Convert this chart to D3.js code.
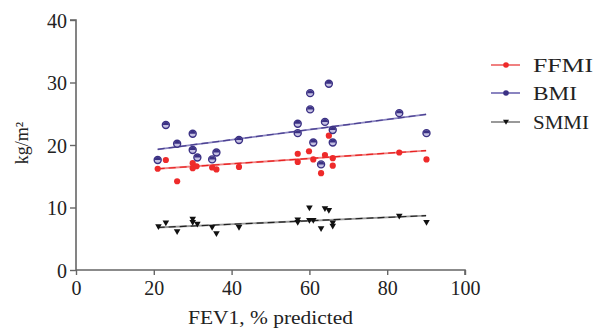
<!DOCTYPE html>
<html><head><meta charset="utf-8">
<script src="https://cdn.jsdelivr.net/npm/d3@7"></script>
<style>body{margin:0;background:#fff}svg{display:block}text{font-family:"Liberation Serif","DejaVu Serif",serif;fill:#222}</style>
</head><body><svg id="c" width="602" height="329"></svg>
<script>
const xTicks = [0,20,40,60,80,100];
const yTicks = [0,10,20,30,40];
const xLabel = "FEV1, % predicted";
const yLabel = "kg/m²";
const seriesNames = ["FFMI","BMI","SMMI"];

const bmiX = [23.1,30.0,26.0,41.9,30.0,21.0,31.2,36.1,35.0,65.0,60.2,60.2,57.0,64.0,57.0,66.0,61.0,66.0,63.0,83.1,90.1];
const bmiY = [23.2,21.8,20.2,20.8,19.2,17.6,18.0,18.8,17.7,29.8,28.3,25.7,23.4,23.7,21.9,22.4,20.4,20.4,16.9,25.1,21.9];
const ffmiX = [23.1,21.0,26.0,30.0,30.0,31.0,35.0,36.1,41.9,65.0,59.9,57.0,64.0,57.0,61.0,66.0,66.0,63.0,83.1,90.1];
const ffmiY = [17.6,16.2,14.2,17.1,16.3,16.6,16.4,16.1,16.5,21.5,19.0,18.6,18.4,17.3,17.7,17.9,16.7,15.5,18.8,17.7];
const smmiX = [21.2,23.1,26.0,30.0,30.0,31.2,35.0,36.1,41.9,60.0,64.0,65.0,57.0,57.0,60.0,61.0,63.0,66.0,66.0,83.1,90.1];
const smmiY = [6.9,7.5,6.1,8.1,7.6,7.3,6.8,5.8,6.8,9.9,9.8,9.5,8.0,7.6,7.9,7.9,6.6,7.5,7.0,8.6,7.6];
const trendX = [21,90];
const ffmiTrend = [16.2,19.1];
const bmiTrend = [19.3,24.9];
const smmiTrend = [6.8,8.7];

const svg = d3.select("#c");
const x = d3.scaleLinear().domain([0,100]).range([76,465]);
const y = d3.scaleLinear().domain([0,40]).range([270,20]);
const axisColor = "#666";

const gx = svg.append("g").attr("transform","translate(0,270)")
  .call(d3.axisBottom(x).tickValues(xTicks).tickSize(5).tickPadding(6).tickFormat(d3.format("d")));
const gy = svg.append("g").attr("transform","translate(76,0)")
  .call(d3.axisLeft(y).tickValues(yTicks).tickSize(6).tickPadding(3).tickFormat(d3.format("d")));
[gx,gy].forEach(g=>{
  g.attr("font-family",null);
  g.select(".domain").attr("stroke",axisColor).attr("stroke-width",1.6);
  g.selectAll(".tick line").attr("stroke",axisColor).attr("stroke-width",1.4);
  g.selectAll("text").attr("font-size",20).style("font-family","'Liberation Serif', serif").attr("fill","#333");
});
gy.select(".domain").attr("d","M0,270V20H-6");
gx.select(".domain").attr("d","M76,0H465V5");
gy.selectAll(".tick text").attr("dy","0.35em");

svg.append("text").attr("x",188).attr("y",324).attr("font-size",19)
  .attr("textLength",165).attr("lengthAdjust","spacingAndGlyphs").text(xLabel);
svg.append("text").attr("transform","translate(28,143) rotate(-90)").attr("text-anchor","middle").attr("font-size",18).text(yLabel);

const series = [
  {name:"FFMI", xs:ffmiX, ys:ffmiY, trend:ffmiTrend, color:"#ee2a2a", line:"#f08080", dash:"#e82020"},
  {name:"BMI", xs:bmiX, ys:bmiY, trend:bmiTrend, color:"#3b3184", line:"#8a84c0", dash:"#4a3f90"},
  {name:"SMMI", xs:smmiX, ys:smmiY, trend:smmiTrend, color:"#111", line:"#999", dash:"#222"}
];
const legendWidths = [60,44,56];

const lineGen = d3.line().x(d=>x(d[0])).y(d=>y(d[1]));
series.forEach(s=>{
  const pts = trendX.map((tx,i)=>[tx,s.trend[i]]);
  svg.append("path").attr("d",lineGen(pts)).attr("stroke",s.line).attr("stroke-width",1.8).attr("fill","none");
  svg.append("path").attr("d",lineGen(pts)).attr("stroke",s.dash).attr("stroke-width",1.2).attr("stroke-dasharray","7,4").attr("fill","none");
});

function drawMarker(g, name, cx, cy, color){
  if(name==="BMI"){
    g.append("circle").attr("cx",cx).attr("cy",cy).attr("r",3.5).attr("fill","#c4c0e2").attr("stroke",color).attr("stroke-width",1.4);
    g.append("path").attr("d",`M${cx-3},${cy}A3,3 0 0 1 ${cx+3},${cy}Z`).attr("fill",color);
  } else if(name==="FFMI"){
    g.append("circle").attr("cx",cx).attr("cy",cy).attr("r",3.1).attr("fill",color);
  } else {
    g.append("path").attr("d",`M${cx-3.3},${cy-2.6}L${cx+3.3},${cy-2.6}L${cx},${cy+3.2}Z`).attr("fill",color);
  }
}

const order = [series[2], series[0], series[1]];
order.forEach(s=>{
  const g = svg.append("g");
  s.xs.forEach((xv,i)=>drawMarker(g, s.name, x(xv), y(s.ys[i]), s.color));
});

// legend
const legY = [65,93,122];
series.forEach((s,i)=>{
  const g = svg.append("g");
  g.append("line").attr("x1",491).attr("x2",520).attr("y1",legY[i]).attr("y2",legY[i]).attr("stroke",s.line).attr("stroke-width",2);
  if(s.name==="SMMI") g.append("path").attr("d",`M503,${legY[i]-2.3}L509,${legY[i]-2.3}L506,${legY[i]+2.7}Z`).attr("fill",s.color);
  else g.append("circle").attr("cx",506).attr("cy",legY[i]).attr("r",2.8).attr("fill",s.color);
  g.append("text").attr("x",533).attr("y",legY[i]).attr("dy","0.35em").attr("font-size",19)
    .attr("textLength",legendWidths[i]).attr("lengthAdjust","spacingAndGlyphs").text(s.name);
});
</script></body></html>
